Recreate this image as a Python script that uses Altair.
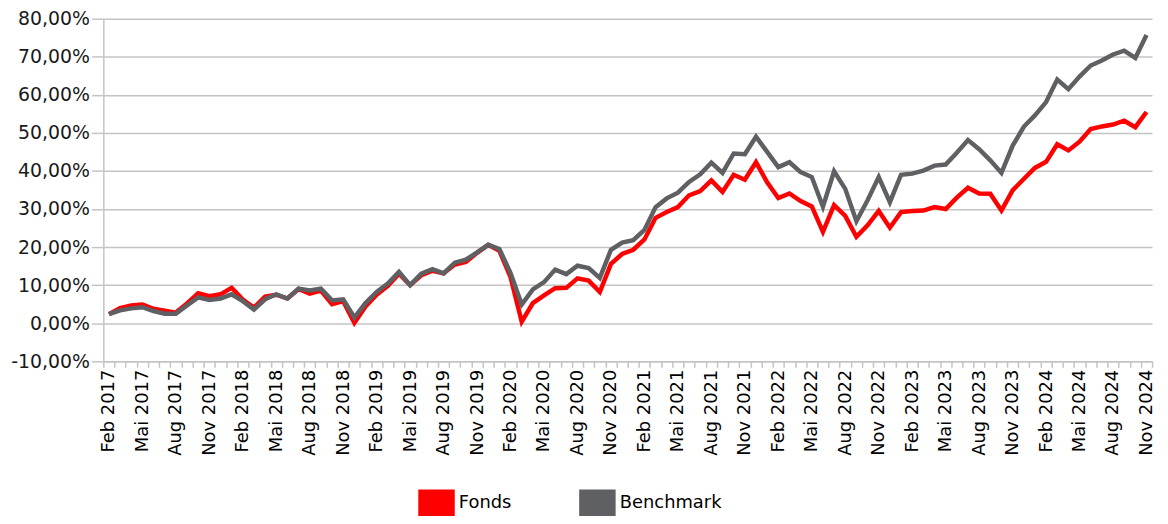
import altair as alt
import pandas as pd

MONTHS_DE = ["Jan", "Feb", "Mär", "Apr", "Mai", "Jun", "Jul", "Aug", "Sep", "Okt", "Nov", "Dez"]

# Monthly categories Feb 2017 .. Nov 2024
categories = []
y, m = 2017, 2
while (y, m) <= (2024, 11):
    categories.append(f"{MONTHS_DE[m - 1]} {y}")
    m += 1
    if m > 12:
        m, y = 1, y + 1

benchmark = [
    2.4, 3.4, 3.9, 4.2, 3.2, 2.5, 2.5, 4.7, 6.8, 6.1,
    6.5, 7.6, 5.8, 3.6, 6.3, 7.6, 6.5, 9.1, 8.6, 9.1,
    6.0, 6.3, 1.5, 5.3, 8.2, 10.4, 13.5, 10.0, 13.0, 14.2,
    13.1, 15.9, 16.7, 18.6, 20.6, 19.5, 13.2, 4.9, 8.9, 10.8,
    14.1, 12.9, 15.1, 14.5, 11.9, 19.3, 21.2, 21.8, 24.5, 30.5,
    32.8, 34.3, 37.1, 39.1, 42.2, 39.5, 44.6, 44.4, 49.0, 45.0,
    41.0, 42.3, 39.7, 38.4, 30.6, 39.9, 35.3, 26.8, 32.3, 38.4,
    31.8, 39.0, 39.3, 40.1, 41.4, 41.7, 44.8, 48.1, 45.7, 42.8,
    39.5, 46.6, 51.6, 54.6, 58.1, 64.0, 61.5, 64.8, 67.7, 69.0,
    70.6, 71.6, 69.7, 75.7,
]

fonds = [
    2.4, 4.0, 4.7, 4.9, 3.8, 3.3, 2.8, 5.2, 7.9, 7.1,
    7.6, 9.3, 6.2, 4.1, 7.0, 7.5, 6.5, 9.0, 7.8, 8.6,
    5.0, 5.8, 0.1, 4.4, 7.5, 9.8, 13.0, 10.0, 12.6, 13.8,
    13.1, 15.4, 16.1, 18.5, 20.6, 19.0, 12.1, 0.4, 5.3, 7.3,
    9.2, 9.3, 11.8, 11.2, 8.2, 15.6, 18.2, 19.3, 22.0, 27.7,
    29.2, 30.5, 33.6, 34.7, 37.5, 34.5, 39.0, 37.7, 42.3, 37.0,
    32.9, 34.1, 32.1, 30.7, 24.0, 31.0, 28.2, 22.7, 25.7, 29.5,
    25.1, 29.2, 29.5, 29.6, 30.5, 30.0, 33.0, 35.6, 34.1, 34.0,
    29.6, 34.9, 37.9, 40.8, 42.4, 47.0, 45.4, 47.7, 51.0, 51.7,
    52.2, 53.2, 51.5, 55.5,
]

series_names = ["Fonds", "Benchmark"]
series_colors = ["#ff0000", "#5f6064"]
y_ticks = list(range(-10, 90, 10))

rows = []
for name, vals in zip(series_names, [fonds, benchmark]):
    for c, v in zip(categories, vals):
        rows.append({"Monat": c, "Wert": v, "Serie": name, "ord": series_names.index(name)})
df = pd.DataFrame(rows)

FONT = "DejaVu Sans"
GRID = "#c4c4c4"

x_axis = alt.Axis(
    title=None,
    labelAngle=-90,
    labelExpr="indexof(['Feb','Mai','Aug','Nov'], slice(datum.label, 0, 3)) >= 0 ? datum.label : ''",
    labelOverlap=False,
    labelFontSize=18,
    labelFont=FONT,
    labelColor="#000000",
    labelPadding=2,
    tickBand="extent",
    tickSize=6,
    tickColor=GRID,
    tickWidth=1.5,
    domainColor=GRID,
    domainWidth=1.5,
    grid=False,
)

y_axis = alt.Axis(
    title=None,
    values=y_ticks,
    labelExpr="replace(replace(format(datum.value, '.2f'), '.', ','), '\u2212', '-') + '%'",
    labelOverlap=False,
    labelFontSize=19,
    labelFont=FONT,
    labelColor="#1a1a1a",
    labelPadding=2,
    tickSize=12,
    tickColor=GRID,
    tickWidth=1.5,
    domainColor=GRID,
    domainWidth=1.5,
    grid=True,
    gridColor=GRID,
    gridWidth=1.5,
)

x_scale = alt.Scale(type="band", paddingInner=0, paddingOuter=0)
y_scale = alt.Scale(domain=[-10, 80], nice=False, zero=False)
color_scale = alt.Scale(domain=series_names, range=series_colors)

legend = alt.Legend(
    title=None,
    orient="none",
    legendX=322,
    legendY=474,
    direction="horizontal",
    symbolType="M-1.36,-1L1.36,-1L1.36,1L-1.36,1Z",
    symbolSize=729,
    symbolStrokeWidth=0,
    symbolOpacity=1,
    labelFontSize=18,
    labelFont=FONT,
    labelColor="#000000",
    labelOffset=9,
    columnPadding=68,
    padding=0,
)


def encs():
    return dict(
        x=alt.X("Monat:O", sort=categories, scale=x_scale, axis=x_axis),
        y=alt.Y("Wert:Q", scale=y_scale, axis=y_axis),
        color=alt.Color("Serie:N", sort=series_names, scale=color_scale, legend=legend),
    )


# Legend-providing layer (no rows pass the filter; gives filled rectangular swatches)
legend_layer = (
    alt.Chart(df)
    .transform_filter("datum.Wert > 1000")
    .mark_point(filled=True, opacity=1)
    .encode(**encs())
)

lines = (
    alt.Chart(df)
    .mark_line(strokeWidth=4.5, strokeJoin="miter")
    .encode(**encs(), order=alt.Order("ord:Q"), detail="Serie:N")
)

chart = (
    alt.layer(legend_layer, lines)
    .properties(
        width=1056,
        height=345,
        padding={"left": 96, "top": 9, "right": 8, "bottom": 154},
        autosize=alt.AutoSizeParams(type="none"),
    )
    .configure_view(stroke=None)
)

chart.save("out.html", embed_options={"renderer": "svg", "actions": False})
